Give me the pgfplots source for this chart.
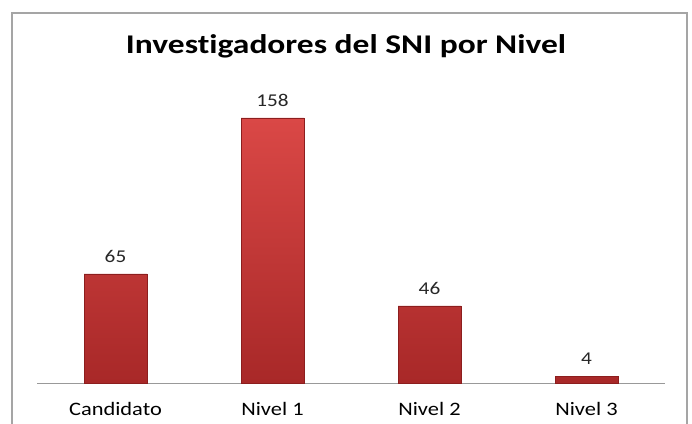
\documentclass[border=0pt]{standalone}
\usepackage{fontspec}
\setmainfont{Carlito}[FakeStretch=1.18, Ligatures=NoCommon]
\newfontfamily\titlefont{Carlito}[FakeStretch=1.24, Ligatures=NoCommon]
\usepackage{pgfplots}
\pgfplotsset{compat=1.18}
\definecolor{barTop}{RGB}{218,72,70}
\definecolor{barBot}{RGB}{168,40,40}
\definecolor{barEdge}{RGB}{140,30,30}
\definecolor{frameGray}{RGB}{165,165,165}
\begin{document}
\begin{tikzpicture}[x=1pt,y=1pt]
\path[use as bounding box] (0,0) rectangle (692,423);
\draw[fill=white, draw=frameGray, line width=1.5pt] (12,-20) rectangle (687,410);
\node[font=\titlefont\fontsize{27}{32}\selectfont\bfseries] at (346,377) {Investigadores del SNI por Nivel};
\begin{axis}[
  at={(37pt,40pt)}, anchor=south west,
  scale only axis, width=628pt, height=301.9pt,
  xmin=-0.5, xmax=3.5, ymin=0, ymax=180,
  axis x line*=bottom, axis y line=none,
  x axis line style={-, draw=gray!80, line width=0.8pt},
  xtick=data, xticklabels={Candidato, Nivel 1, Nivel 2, Nivel 3},
  major tick length=0pt,
  xticklabel style={font=\fontsize{19}{22}\selectfont, yshift=-16pt},
  /pgf/number format/assume math mode=true,
  ybar, bar width=63pt,
  nodes near coords,
  every node near coord/.append style={font=\fontsize{18}{21}\selectfont, yshift=8pt, text=black!85},
  clip=false,
]
\addplot[draw=barEdge, line width=0.4pt, top color=barTop, bottom color=barBot] coordinates {(0,65) (1,158) (2,46) (3,4)};
\end{axis}
\end{tikzpicture}
\end{document}
